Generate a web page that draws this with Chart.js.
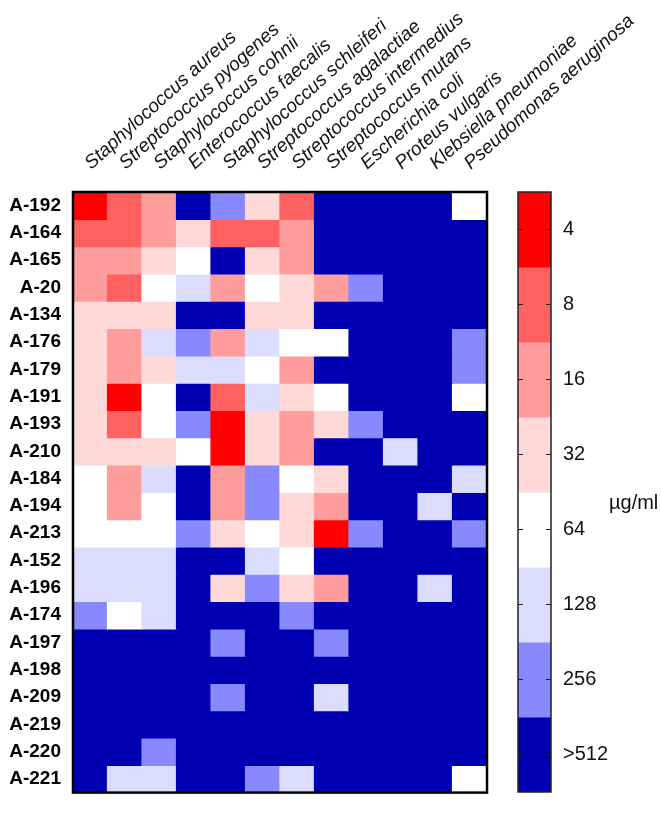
<!DOCTYPE html>
<html>
<head>
<meta charset="utf-8">
<script src="https://cdn.jsdelivr.net/npm/chart.js@4.4.1/dist/chart.umd.min.js"></script>
<style>
  html, body { margin: 0; padding: 0; background: #fff; }
  #wrap { position: relative; width: 661px; height: 816px; }
  #wrap canvas { position: absolute; left: 0; top: 0; }
</style>
</head>
<body>
<div id="wrap">
  <canvas id="heat" width="661" height="816"></canvas>
  <canvas id="scale" width="661" height="816"></canvas>
</div>
<script>
// ============================================================
// DATA
// ============================================================

var species = [
  'Staphylococcus aureus', 'Streptococcus pyogenes', 'Staphylococcus cohnii',
  'Enterococcus faecalis', 'Staphylococcus schleiferi', 'Streptococcus agalactiae',
  'Streptococcus intermedius', 'Streptococcus mutans', 'Escherichia coli',
  'Proteus vulgaris', 'Klebsiella pneumoniae', 'Pseudomonas aeruginosa'
];

var compounds = [
  'A-192', 'A-164', 'A-165', 'A-20', 'A-134', 'A-176', 'A-179', 'A-191',
  'A-193', 'A-210', 'A-184', 'A-194', 'A-213', 'A-152', 'A-196', 'A-174',
  'A-197', 'A-198', 'A-209', 'A-219', 'A-220', 'A-221'
];

// MIC in µg/ml, 1024 stands for ">512"
var micValues = [
  [4, 8, 16, 1024, 256, 32, 8, 1024, 1024, 1024, 1024, 64],
  [8, 8, 16, 32, 8, 8, 16, 1024, 1024, 1024, 1024, 1024],
  [16, 16, 32, 64, 1024, 32, 16, 1024, 1024, 1024, 1024, 1024],
  [16, 8, 64, 128, 16, 64, 32, 16, 256, 1024, 1024, 1024],
  [32, 32, 32, 1024, 1024, 32, 32, 1024, 1024, 1024, 1024, 1024],
  [32, 16, 128, 256, 16, 128, 64, 64, 1024, 1024, 1024, 256],
  [32, 16, 32, 128, 128, 64, 16, 1024, 1024, 1024, 1024, 256],
  [32, 4, 64, 1024, 8, 128, 32, 64, 1024, 1024, 1024, 64],
  [32, 8, 64, 256, 4, 32, 16, 32, 256, 1024, 1024, 1024],
  [32, 32, 32, 64, 4, 32, 16, 1024, 1024, 128, 1024, 1024],
  [64, 16, 128, 1024, 16, 256, 64, 32, 1024, 1024, 1024, 128],
  [64, 16, 64, 1024, 16, 256, 32, 16, 1024, 1024, 128, 1024],
  [64, 64, 64, 256, 32, 64, 32, 4, 256, 1024, 1024, 256],
  [128, 128, 128, 1024, 1024, 128, 64, 1024, 1024, 1024, 1024, 1024],
  [128, 128, 128, 1024, 32, 256, 32, 16, 1024, 1024, 128, 1024],
  [256, 64, 128, 1024, 1024, 1024, 256, 1024, 1024, 1024, 1024, 1024],
  [1024, 1024, 1024, 1024, 256, 1024, 1024, 256, 1024, 1024, 1024, 1024],
  [1024, 1024, 1024, 1024, 1024, 1024, 1024, 1024, 1024, 1024, 1024, 1024],
  [1024, 1024, 1024, 1024, 256, 1024, 1024, 128, 1024, 1024, 1024, 1024],
  [1024, 1024, 1024, 1024, 1024, 1024, 1024, 1024, 1024, 1024, 1024, 1024],
  [1024, 1024, 256, 1024, 1024, 1024, 1024, 1024, 1024, 1024, 1024, 1024],
  [1024, 128, 128, 1024, 1024, 256, 128, 1024, 1024, 1024, 1024, 64]
];

var micLevels = [4, 8, 16, 32, 64, 128, 256, 1024];
var levelLabels = ['4', '8', '16', '32', '64', '128', '256', '>512'];
var levelColors = ['#FF0000', '#FF6060', '#FF9C9C', '#FFD8D8', '#FFFFFF', '#DCDCFF', '#8888FF', '#0000B2'];

var FONT = '"Liberation Sans", Arial, Helvetica, sans-serif';

function micColor(v) {
  var idx = micLevels.indexOf(v);
  return levelColors[idx < 0 ? levelColors.length - 1 : idx];
}

// ============================================================
// HEATMAP
// ============================================================

// inflateAmount closes the hairline seams between neighbouring cells
var heatDatasets = compounds.map(function(name, r) {
  return {
    label: name,
    data: micValues[r].map(function() { return [r - 0.5, r + 0.5]; }),
    backgroundColor: micValues[r].map(micColor),
    borderWidth: 0,
    inflateAmount: 0.6,
    grouped: false,
    barPercentage: 1,
    categoryPercentage: 1
  };
});

var heatDecor = {
  id: 'heatDecor',
  afterDatasetsDraw: function(chart) {
    var ctx = chart.ctx;
    var area = chart.chartArea;
    var xs = chart.scales.x;
    ctx.save();
    ctx.lineWidth = 2.5;
    ctx.strokeStyle = '#000';
    ctx.strokeRect(area.left, area.top, area.right - area.left, area.bottom - area.top);

    // rotated species names above each column
    ctx.fillStyle = '#111';
    ctx.font = 'italic 19px ' + FONT;
    ctx.textAlign = 'left';
    ctx.textBaseline = 'alphabetic';
    species.forEach(function(name, i) {
      ctx.save();
      ctx.translate(xs.getPixelForValue(i) + 1, area.top - 22);
      ctx.rotate(-42 * Math.PI / 180);
      ctx.fillText(name, 0, 0);
      ctx.restore();
    });
    ctx.restore();
  }
};

new Chart(document.getElementById('heat'), {
  type: 'bar',
  data: { labels: species, datasets: heatDatasets },
  options: {
    responsive: false,
    animation: false,
    layout: { padding: { left: 0, top: 192, right: 174, bottom: 6 } },
    plugins: { legend: { display: false }, tooltip: { enabled: false } },
    scales: {
      x: { display: false },
      y: {
        type: 'linear',
        min: -0.5,
        max: 21.5,
        reverse: true,
        afterBuildTicks: function(scale) {
          scale.ticks = compounds.map(function(c, i) { return { value: i }; });
        },
        afterFit: function(scale) { scale.width = 73; },
        grid: { display: false, drawTicks: false },
        border: { display: false },
        ticks: {
          autoSkip: false,
          padding: 12,
          color: '#000',
          font: { family: FONT, size: 19, weight: 'bold' },
          callback: function(v) { return compounds[v]; }
        }
      }
    }
  },
  plugins: [heatDecor]
});

// ============================================================
// COLOUR SCALE
// ============================================================

var scaleDatasets = levelLabels.map(function(lab, i) {
  return {
    label: lab,
    data: [[i - 0.5, i + 0.5]],
    backgroundColor: levelColors[i],
    borderWidth: 0,
    inflateAmount: 0.6,
    grouped: false,
    barPercentage: 1,
    categoryPercentage: 1
  };
});

var scaleDecor = {
  id: 'scaleDecor',
  afterDatasetsDraw: function(chart) {
    var ctx = chart.ctx;
    var area = chart.chartArea;
    var ys = chart.scales.y;
    ctx.save();
    ctx.lineWidth = 1.5;
    ctx.strokeStyle = '#222';
    ctx.strokeRect(area.left, area.top, area.right - area.left, area.bottom - area.top);
    ctx.lineWidth = 1.2;
    levelLabels.forEach(function(lab, i) {
      var y = ys.getPixelForValue(i);
      ctx.beginPath();
      ctx.moveTo(area.left, y); ctx.lineTo(area.left + 5, y);
      ctx.moveTo(area.right - 5, y); ctx.lineTo(area.right, y);
      ctx.stroke();
    });
    ctx.fillStyle = '#111';
    ctx.font = '20px ' + FONT;
    ctx.textAlign = 'left';
    ctx.textBaseline = 'middle';
    ctx.fillText('\u00B5g/ml', 609, 503);
    ctx.restore();
  }
};

new Chart(document.getElementById('scale'), {
  type: 'bar',
  data: { labels: ['MIC'], datasets: scaleDatasets },
  options: {
    responsive: false,
    animation: false,
    layout: { padding: { left: 518, top: 192, right: 0, bottom: 6 } },
    plugins: { legend: { display: false }, tooltip: { enabled: false } },
    scales: {
      x: { display: false },
      y: {
        type: 'linear',
        position: 'right',
        min: -0.5,
        max: 7.5,
        reverse: true,
        afterBuildTicks: function(scale) {
          scale.ticks = levelLabels.map(function(l, i) { return { value: i }; });
        },
        afterFit: function(scale) { scale.width = 110; },
        grid: { display: false, drawTicks: false },
        border: { display: false },
        ticks: {
          autoSkip: false,
          padding: 12,
          color: '#111',
          font: { family: FONT, size: 20 },
          callback: function(v) { return levelLabels[v]; }
        }
      }
    }
  },
  plugins: [scaleDecor]
});
</script>
</body>
</html>
